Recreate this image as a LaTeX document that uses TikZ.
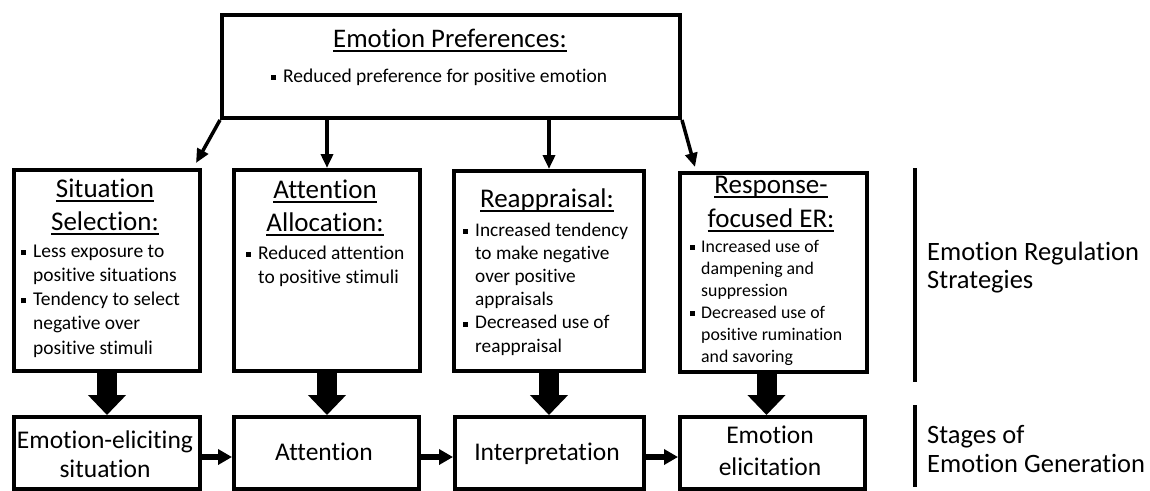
\documentclass[tikz,border=0pt]{standalone}
\usepackage{fontspec}
\setmainfont{Carlito}[Ligatures=NoCommon]
\usetikzlibrary{arrows.meta,calc}
\newcommand{\bul}{\rule[2.3pt]{5pt}{5pt}}
\newcommand{\sbul}{\rule[2.1pt]{4.6pt}{4.6pt}}
\newcommand{\ulin}[1]{\setbox0\hbox{#1}\rlap{\rule[-4.5pt]{\wd0}{1.7pt}}\box0}
\newcommand{\ttlfont}{\fontsize{27}{33}\selectfont}
\tikzset{
  box/.style={draw, line width=4pt, inner sep=0pt, anchor=north west},
  txt/.style={inner sep=0pt, anchor=base},
  lst/.style={inner sep=0pt, anchor=base west},
  thinarr/.style={line width=3.5pt, -{Triangle[length=14pt,width=12pt]}},
  blockarr/.style={line width=20pt, -{Triangle[length=20pt,width=37pt]}},
  harr/.style={line width=6pt, -{Triangle[length=14pt,width=15pt]}},
  sidebar/.style={line width=3.5pt}
}
\begin{document}
\begin{tikzpicture}[x=1pt,y=-1pt]
\fill[white] (0,0) rectangle (1150,490);
\path[use as bounding box] (0,0) rectangle (1150,490);

% boxes
\node[box, minimum width=458pt, minimum height=103pt] (top) at (220,13) {};
\node[box, minimum width=186pt, minimum height=201pt] (s1) at (12,168) {};
\node[box, minimum width=186pt, minimum height=201pt] (s2) at (232,168) {};
\node[box, minimum width=190pt, minimum height=200pt] (s3) at (452,169) {};
\node[box, minimum width=187pt, minimum height=199pt] (s4) at (678,171) {};
\node[box, minimum width=186pt, minimum height=72pt] (e1) at (12,415) {};
\node[box, minimum width=185pt, minimum height=72pt] (e2) at (232,415) {};
\node[box, minimum width=189pt, minimum height=72pt] (e3) at (453,415) {};
\node[box, minimum width=185pt, minimum height=72pt] (e4) at (678,415) {};

% top box text
\node[txt, font=\fontsize{26.8}{32}\selectfont] (ttop) at (450,47) {\ulin{Emotion Preferences:}};
\node[lst, font=\fontsize{19.5}{24}\selectfont] (btop) at (271,82) {\bul\hspace{7pt}Reduced preference for positive emotion};

% strategy titles
\node[txt, font=\ttlfont] (t1) at (105,197) {\begin{tabular}[t]{@{}c@{}}\ulin{Situation}\\\ulin{Selection:}\end{tabular}};
\node[txt, font=\ttlfont] (t2) at (325,198) {\begin{tabular}[t]{@{}c@{}}\ulin{Attention}\\\ulin{Allocation:}\end{tabular}};
\node[txt, font=\ttlfont] (t3) at (547,207) {\ulin{Reappraisal:}};
\node[txt, font=\fontsize{27}{34}\selectfont] (t4) at (771,193) {\begin{tabular}[t]{@{}c@{}}\ulin{Response-}\\\ulin{focused ER:}\end{tabular}};

% strategy bullets
\node[lst, font=\fontsize{19.5}{24.3}\selectfont] (b1) at (21,257) {\begin{tabular}[t]{@{}l@{\hspace{7pt}}l@{}}\bul & Less exposure to\\ & positive situations\\ \bul & Tendency to select\\ & negative over\\ & positive stimuli\end{tabular}};
\node[lst, font=\fontsize{19.5}{24.3}\selectfont] (b2) at (246,259) {\begin{tabular}[t]{@{}l@{\hspace{7pt}}l@{}}\bul & Reduced attention\\ & to positive stimuli\end{tabular}};
\node[lst, font=\fontsize{19.3}{23.2}\selectfont] (b3) at (463,236) {\begin{tabular}[t]{@{}l@{\hspace{7pt}}l@{}}\bul & Increased tendency\\ & to make negative\\ & over positive\\ & appraisals\\ \bul & Decreased use of\\ & reappraisal\end{tabular}};
\node[lst, font=\fontsize{17.8}{22}\selectfont] (b4) at (690,252) {\begin{tabular}[t]{@{}l@{\hspace{6.4pt}}l@{}}\sbul & Increased use of\\ & dampening and\\ & suppression\\ \sbul & Decreased use of\\ & positive rumination\\ & and savoring\end{tabular}};

% stage texts
\node[txt, font=\fontsize{25.5}{29}\selectfont] (g1) at (105,448) {\begin{tabular}[t]{@{}c@{}}Emotion-eliciting\\situation\end{tabular}};
\node[txt, font=\fontsize{25.5}{29}\selectfont] (g2) at (324,460) {Attention};
\node[txt, font=\fontsize{25.5}{29}\selectfont] (g3) at (547,460) {Interpretation};
\node[txt, font=\fontsize{25.5}{32}\selectfont] (g4) at (770,443) {\begin{tabular}[t]{@{}c@{}}Emotion\\elicitation\end{tabular}};

% side labels
\draw[sidebar] (915,168) -- (915,382);
\draw[sidebar] (915,405) -- (915,487);
\node[lst, font=\fontsize{26.5}{28}\selectfont] (r1) at (927,260) {\begin{tabular}[t]{@{}l@{}}Emotion Regulation\\Strategies\end{tabular}};
\node[lst, font=\fontsize{26.5}{29}\selectfont] (r2) at (927,443) {\begin{tabular}[t]{@{}l@{}}Stages of\\Emotion Generation\end{tabular}};

% thin arrows from top box
\draw[thinarr] (top.south west) -- ($(s1.north east)+(-6,-5)$);
\draw[thinarr] (top.south -| s2.north) -- (s2.north);
\draw[thinarr] (top.south -| s3.north) -- (s3.north);
\draw[thinarr] (top.south east) -- ($(s4.north west)+(17,-4)$);

% block arrows
\draw[blockarr] (s1.south) -- (s1.south |- e1.north);
\draw[blockarr] (s2.south) -- (s2.south |- e2.north);
\draw[blockarr] (s3.south) -- (s3.south |- e3.north);
\draw[blockarr] ($(s4.south)+(-7,0)$) -- ($(s4.south |- e4.north)+(-7,0)$);

% horizontal arrows
\draw[harr] ($(e1.east)+(0,4)$) -- ($(e2.west)+(0,4)$);
\draw[harr] ($(e2.east)+(0,4)$) -- ($(e3.west)+(0,4)$);
\draw[harr] ($(e3.east)+(0,4)$) -- ($(e4.west)+(0,4)$);
\end{tikzpicture}
\end{document}
